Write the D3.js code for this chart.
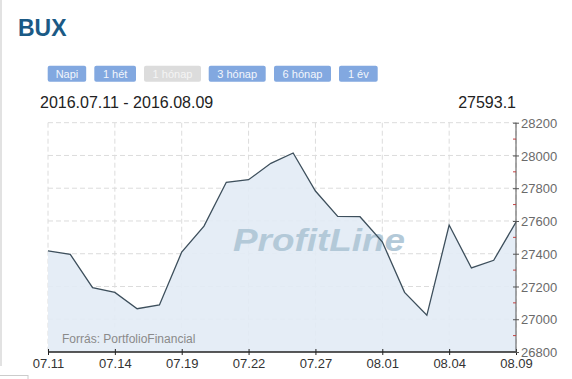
<!DOCTYPE html>
<html><head><meta charset="utf-8">
<script src="https://cdn.jsdelivr.net/npm/d3@7"></script>
<style>
html,body{margin:0;padding:0;background:#fff;}
svg{display:block;font-family:Arial,"Liberation Sans",sans-serif;}
</style></head>
<body><svg id="c" width="572" height="379"></svg>
<script>
const dates = ["07.11","07.12","07.13","07.14","07.15","07.18","07.19","07.20","07.21","07.22","07.25","07.26","07.27","07.28","07.29","08.01","08.02","08.03","08.04","08.05","08.08","08.09"];
const values = [27418,27396,27193,27164,27064,27087,27410,27569,27836,27852,27952,28015,27783,27628,27626,27473,27164,27024,27575,27313,27360,27593.1];
const xTickLabels = ["07.11","07.14","07.19","07.22","07.27","08.01","08.04","08.09"];
const yTicks = [26800,27000,27200,27400,27600,27800,28000,28200];
const buttons = ["Napi","1 hét","1 hónap","3 hónap","6 hónap","1 év"];
const activeButton = "1 hónap";
const title = "BUX";
const rangeText = "2016.07.11 - 2016.08.09";
const lastText = "27593.1";
const sourceText = "Forrás: PortfolioFinancial";
const watermark = "ProfitLine";

const svg = d3.select("#c");
const L = 48, R = 516, T = 122.7, B = 352;

// left page border
svg.append("line").attr("x1",1).attr("x2",1).attr("y1",0).attr("y2",366).attr("stroke","#e2e2e2").attr("stroke-width",2);
svg.append("rect").attr("x",-1).attr("y",375.5).attr("width",29).attr("height",10).attr("fill","#fff").attr("stroke","#ccc");

svg.append("text").attr("x",18).attr("y",36).text(title)
  .attr("font-size",23).attr("font-weight","bold").attr("fill","#1b5a85");

// buttons
const bw = [38.5,41.7,57,57,57,38.7];
const bx = [47.7,94.3,144,208.7,274,339];
const bg = svg.append("g");
buttons.forEach((b,i)=>{
  const act = b===activeButton;
  bg.append("rect").attr("x",bx[i]).attr("y",65.7).attr("width",bw[i]).attr("height",16).attr("rx",2)
    .attr("fill", act? "#dcdcdc" : "#82a8e0");
  bg.append("text").attr("x",bx[i]+bw[i]/2).attr("y",77.5).attr("text-anchor","middle")
    .attr("font-size",11).attr("fill", act? "#f4f4f4":"#f2f6fc").text(b);
});

svg.append("text").attr("x",40).attr("y",108).attr("font-size",16).attr("fill","#222").text(rangeText);
svg.append("text").attr("x",516).attr("y",108).attr("text-anchor","end").attr("font-size",16).attr("fill","#222").text(lastText);

const x = d3.scalePoint().domain(dates).range([L,R]);
const y = d3.scaleLinear().domain([26800,28200]).range([B,T]);

// grid
const grid = svg.append("g");
yTicks.filter(v=>v>26800).forEach(v=>{
  grid.append("line").attr("x1",L).attr("x2",R).attr("y1",y(v)).attr("y2",y(v))
    .attr("stroke","#dcdcdc").attr("stroke-dasharray","5,3");
});
xTickLabels.forEach(d=>{
  grid.append("line").attr("x1",x(d)).attr("x2",x(d)).attr("y1",T).attr("y2",B)
    .attr("stroke","#dcdcdc").attr("stroke-dasharray","5,3");
});

// area
const pts = dates.map((d,i)=>({d, v: values[i]}));
svg.append("path").datum(pts)
  .attr("d", d3.area().x(p=>x(p.d)).y0(B).y1(p=>y(p.v)))
  .attr("fill","#e2ebf5").attr("fill-opacity",0.9);

// watermark
svg.append("text").attr("x",319).attr("y",251).attr("text-anchor","middle")
  .attr("font-family","'Liberation Sans',Arial,sans-serif")
  .attr("font-size",31).attr("font-weight","bold").attr("font-style","italic")
  .attr("fill","#b3c9d8").attr("textLength",172).attr("lengthAdjust","spacingAndGlyphs").text(watermark);

// line
svg.append("path").datum(pts)
  .attr("d", d3.line().x(p=>x(p.d)).y(p=>y(p.v)))
  .attr("fill","none").attr("stroke","#3d4f5c").attr("stroke-width",1.3);

svg.append("text").attr("x",62).attr("y",343).attr("font-size",12).attr("fill","#8a8a8a").text(sourceText);

// x axis
const xa = svg.append("g").attr("transform",`translate(0,${B})`)
  .call(d3.axisBottom(x).tickValues(xTickLabels).tickSize(5).tickSizeOuter(0));
xa.select(".domain").attr("stroke","#222").attr("stroke-width",1.3).attr("d",`M${L},0H${R}`);
xa.selectAll(".tick line").attr("stroke","#222").attr("y1",-3).attr("y2",3);
xa.selectAll(".tick text").attr("font-size",13).attr("fill","#333").attr("font-family","Arial,'Liberation Sans',sans-serif").attr("dy","0.9em").attr("y",4);

// y axis right
const ya = svg.append("g").attr("transform",`translate(${R},0)`)
  .call(d3.axisRight(y).tickValues(yTicks).tickFormat(d3.format("d")).tickSize(3).tickSizeOuter(0));
ya.select(".domain").attr("stroke","#555").attr("d",`M0,${T}V${B}`);
ya.selectAll(".tick line").attr("stroke","#555").attr("x1",-3).attr("x2",3);
ya.selectAll(".tick text").attr("font-size",13).attr("fill","#6a6a6a").attr("x",5).attr("dy","0.35em")
  .attr("font-family","Arial,'Liberation Sans',sans-serif");
// minor ticks
const minor = d3.range(26900,28200,200);
ya.selectAll(".minor").data(minor).join("line").attr("class","minor")
  .attr("x1",-3).attr("x2",0).attr("y1",d=>y(d)).attr("y2",d=>y(d)).attr("stroke","#c04040");
</script></body></html>
